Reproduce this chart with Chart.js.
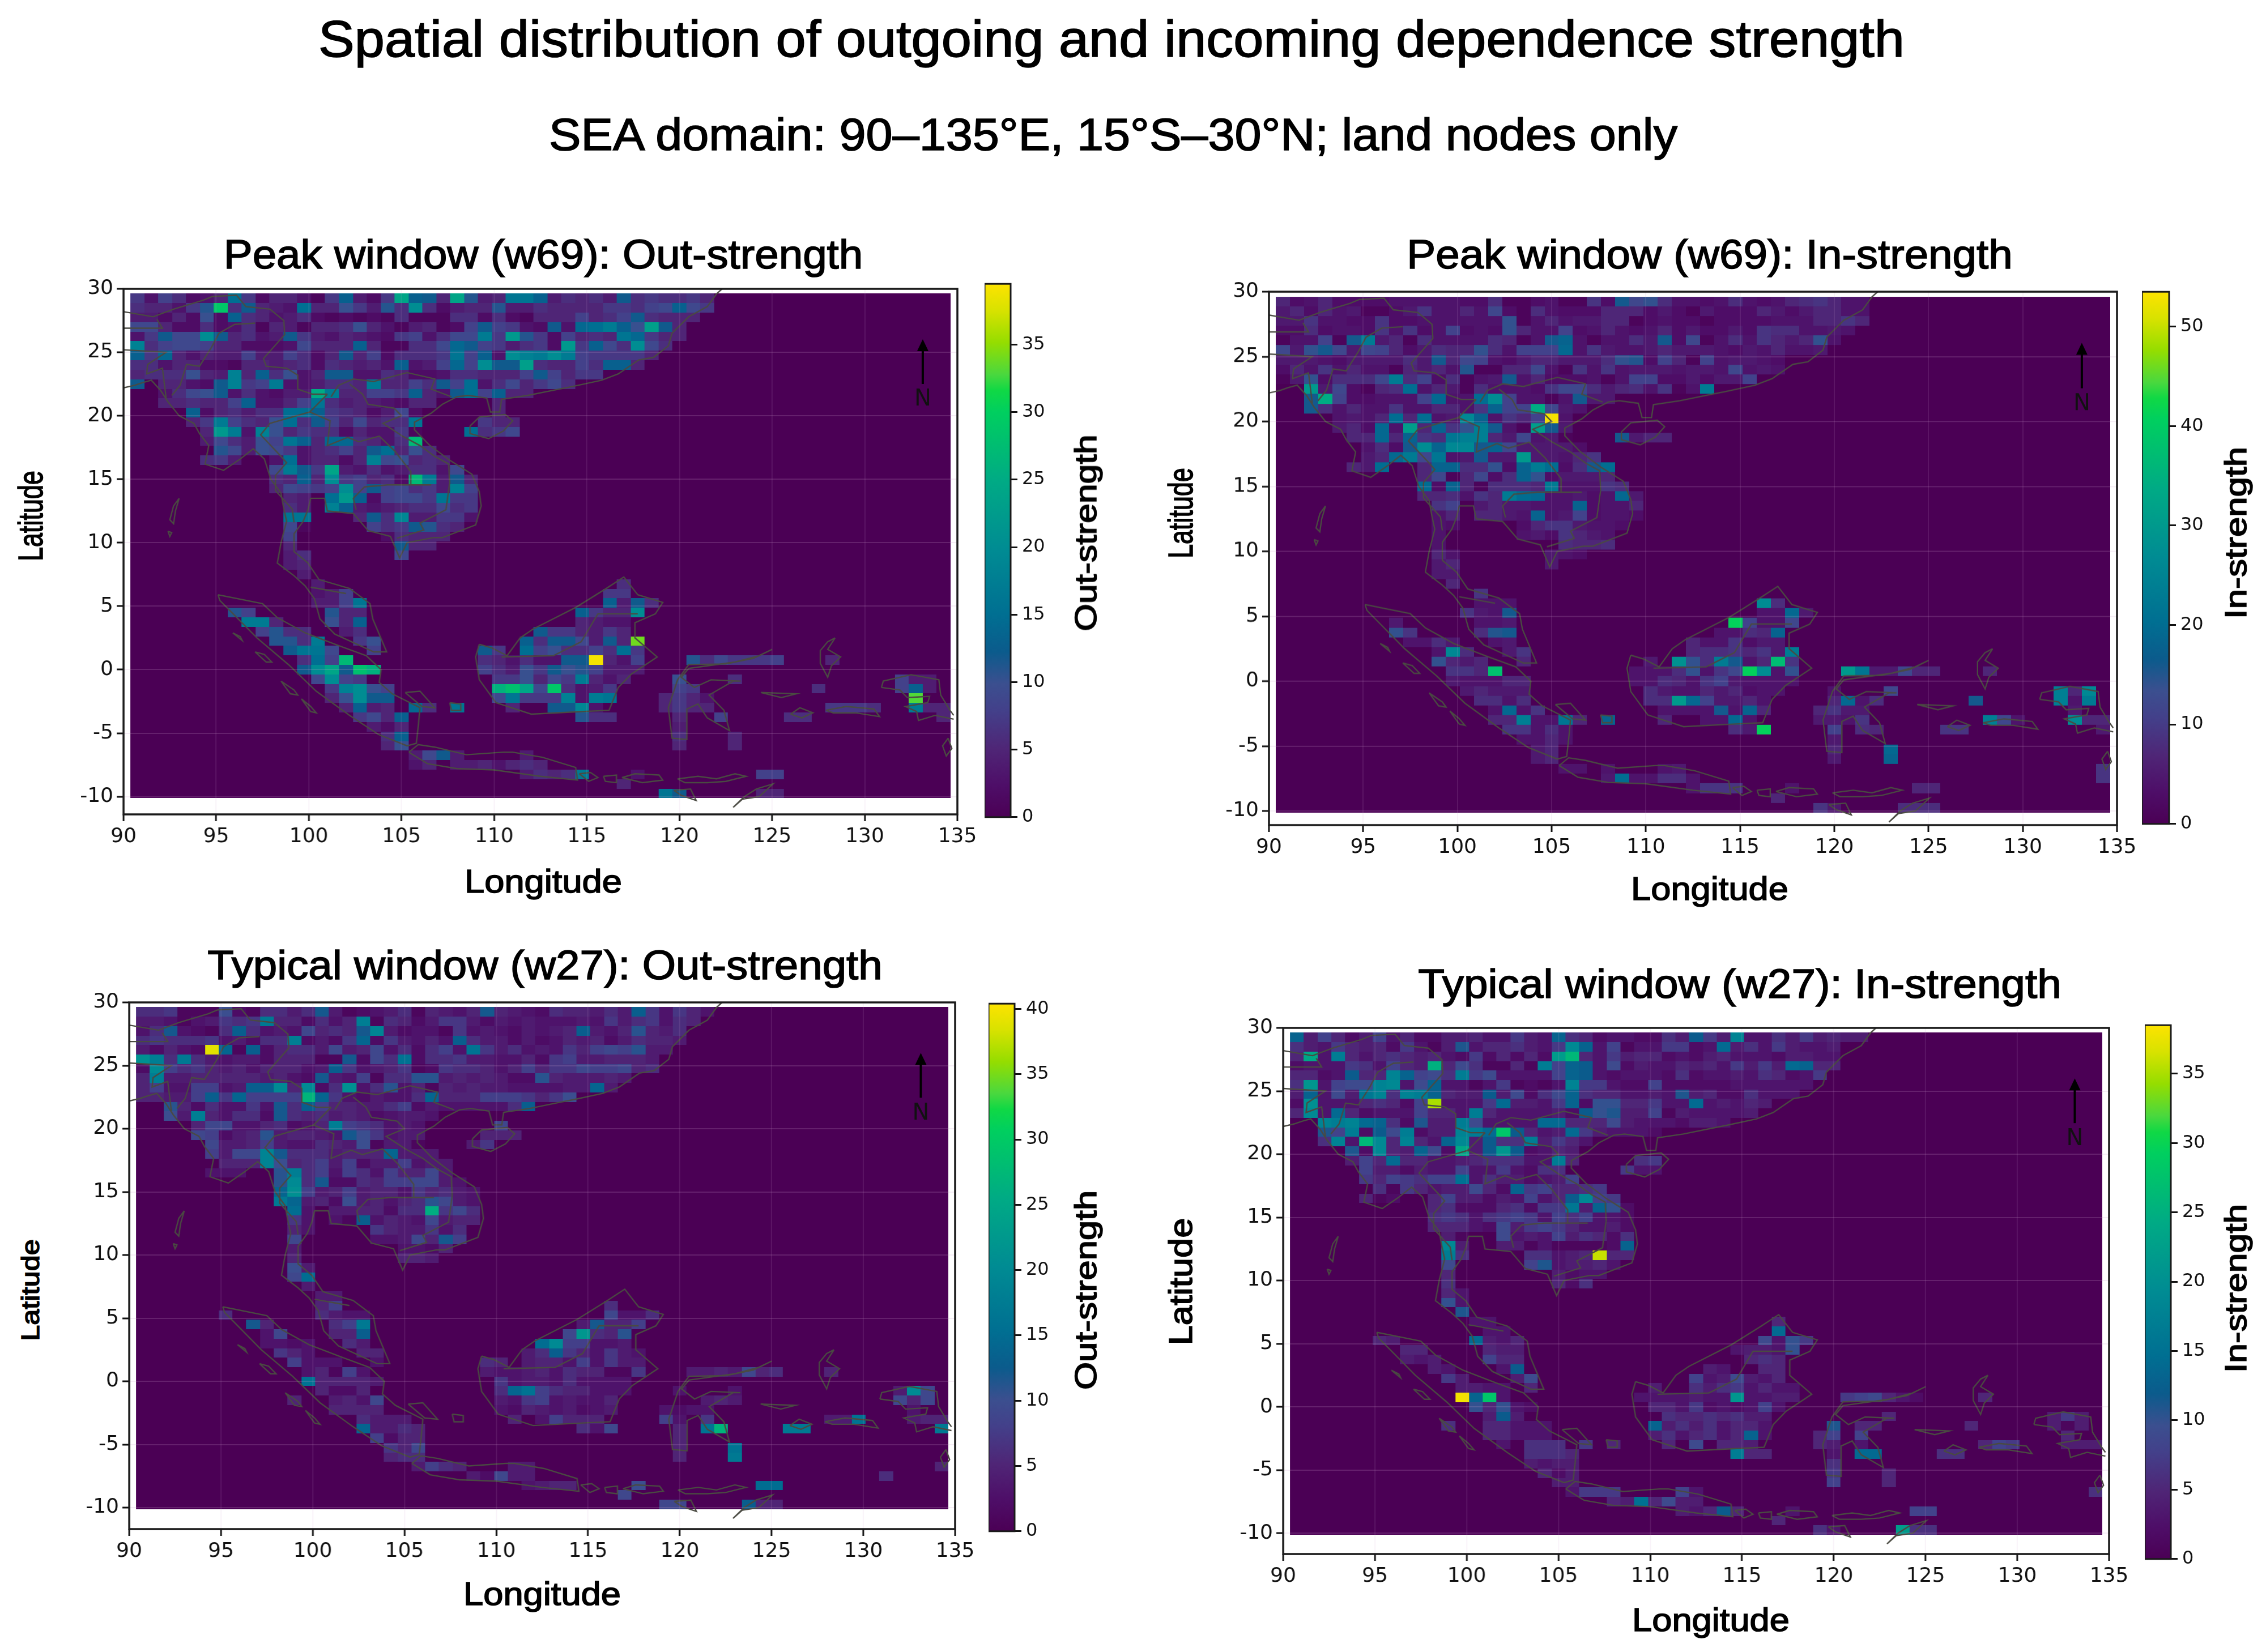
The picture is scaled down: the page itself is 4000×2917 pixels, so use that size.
<!DOCTYPE html>
<html>
<head>
<meta charset="utf-8">
<title>Outgoing and incoming dependence strength</title>
<script src="https://cdn.jsdelivr.net/npm/chart.js@4/dist/chart.umd.min.js"></script>
<style>
html,body{margin:0;padding:0;background:#fff;}
#page{position:relative;width:4000px;height:2917px;overflow:hidden;background:#fff;}
canvas{position:absolute;display:block;}
.lbl{position:absolute;white-space:nowrap;color:#000;font-family:"Liberation Sans",Arial,sans-serif;line-height:1;transform-origin:center center;-webkit-text-stroke:1.6px #000;}
</style>
</head>
<body>
<div id="page"></div>
<script>
// Grid of the strength fields: 0.75 degree cells, west edge 90.375E, north edge 29.625N.
const lonTicks = [90,95,100,105,110,115,120,125,130,135];
const latTicks = [-10,-5,0,5,10,15,20,25,30];

// Each entry is [row from the north, first column, value, value, ...]; cells not listed are 0.
const outPeak = [
[0,0,7,3,8,6,2,3,5,15,7,2,5,5,3,1,7,13,4,2,7,24,13,12,5,24,11,4,5,16,16,13,4,6,5,6,4,12,6,7,6,6,7,5],
[1,0,6,5,5,3,7,11,29,6,12,5,4,3,15,5,5,10,7,4,11,6,20,6,2,4,5,5,11,4,4,6,5,5,5,5,7,7,6,8,9,13,9,7],
[2,0,4,4,2,5,2,10,2,13,6,5,3,4,6,2,1,2,1,2,1,6,1,1,1,6,6,2,6,2,1,5,5,5,8,5,6,8,12,6,5,5,5],
[3,0,9,9,5,2,2,6,2,3,6,1,5,4,1,5,5,6,10,5,3,1,4,5,1,2,8,12,8,7,3,2,12,3,14,15,17,13,10,23,12,5],
[4,0,3,7,12,9,9,20,12,5,6,3,4,12,7,4,3,5,4,3,2,7,8,3,6,9,9,17,7,22,11,7,2,8,5,6,5,16,14,7,5,5],
[5,0,18,6,8,9,9,8,5,5,2,2,2,3,9,5,5,5,13,5,1,1,6,6,9,14,12,8,7,4,6,7,2,22,7,13,9,6,20,9,6],
[6,0,13,7,14,5,3,5,4,4,8,4,4,8,6,2,5,12,5,8,2,6,6,6,7,16,8,13,3,20,18,17,20,17,8,7,7,7,7,5],
[7,0,6,6,3,5,5,2,2,1,5,5,4,5,6,2,6,5,4,5,3,13,3,4,8,14,8,20,12,12,23,6,5,5,8,6,13,13,5],
[8,0,5,6,6,6,10,5,4,18,5,13,6,10,3,5,12,12,3,3,6,5,2,2,3,6,6,5,5,5,8,12,8,5,7,7],
[9,0,12,0,5,5,3,2,12,18,7,8,17,3,3,4,6,6,5,17,5,5,8,6,12,8,15,3,6,9,5,7,9,6],
[10,2,3,6,9,10,12,3,6,3,2,4,4,25,17,5,5,8,8,7,13,5,3,12,15,8,13,5,5],
[11,2,5,5,6,5,5,8,13,3,3,5,8,16,6,4,5,4,3,2,5,5],[11,26,5],
[12,4,13,2,5,6,4,6,6,15,15,13,7,6,5,2,4,9,2],[12,26,5],
[13,4,5,7,17,8,6,5,10,15,6,12,8,5,9,5,6,6,16],[13,25,7,5,5],
[14,5,5,22,17,3,18,10,5,7,6,6,2,5,3,3,7,1],[14,24,15,6,7,9],
[15,5,4,9,6,4,10,8,16,13,5,14,14,6,5,3,6,27],
[16,6,11,9,4,10,9,7,3,5,6,8,5,12,15,5,10,6],
[17,5,6,7,4],[17,10,3,15,3,5,5,2,5,18,9,10,5,6,5],
[18,10,9,17,12,7,24,4,3,6,3,4,6,6,3,9],
[19,10,6,5,13,5,20,7,8,5,6,2,27,17,4,12,5],
[20,10,5,9,8,7,8,20,8,12,8,9,6,7,4,18,8],
[21,11,5,4],[21,14,15,22,13,2,8,9,9,7,16,7,7],
[22,11,6,4],[22,14,18,13,4,3,4,5,6,6,9,6,7],
[23,11,16,16],[23,16,5,12,6,19,4,4,7,7,3],
[24,11,9,1],[24,17,8,6,7,12,11,6,5],
[25,11,8],[25,18,2,6,5,5,5],
[26,11,5],[26,19,12,5,5],
[27,11,4,6],[27,19,9],
[28,11,4,5],
[29,12,4],
[30,13,4],[30,35,6],
[31,13,3,4,8],[31,34,7,7],
[32,13,4,4,8,16],[32,34,13,4,12,6],
[33,7,11,8],[33,14,11,5,5],[33,32,13,7,5,5,20],
[34,8,17,17,5],[34,14,10,5,13],[34,32,5,4,3,3],
[35,9,8,11,6,6],[35,15,4,6],[35,29,12,7,7,5,4,7,5],
[36,10,11,11,6,17],[36,16,7,10],[36,28,13,6,12,12,9,4,12,5,34],
[37,11,12,16,16,9],[37,17,8],[37,25,12,7],[37,28,15,8,10,6,6,8,6,15,7],
[38,12,6,15,8,27],[38,25,6,5,3,6,3,3,12,12,39,5,3,8],[38,40,11,6,9,7,7,7,8],[38,50,5],
[39,12,12,20,24,12,28,26],[39,25,8,6,4,10,7,12,10,11,8,4,4,4],
[40,13,9,20,8,7],[40,26,7,7,10,5,9,7,17,5,3,5],[40,39,10],[40,43,6],[40,55,8,4,4],
[41,14,7,18,20,10,8],[41,26,26,28,24,9,29,6,3,4,7],[41,39,8,7],[41,49,6],[41,55,8,13,4],
[42,14,5,10,20,12,12],[42,26,9,16,7,7,7,18,3,17,16],[42,38,5,7,5,3],[42,56,33],
[43,15,5,13,4,5],[43,20,14,6],[43,23,16],[43,27,5],[43,30,12,12,19,3],[43,38,5,7,5,5],[43,50,7,7,7,6],[43,56,17,5,5],
[44,16,7,9,5,13],[44,32,11,6,6],[44,39,5],[44,42,8],[44,47,6,6],[44,58,5],
[45,17,4,2,5],[45,39,4],
[46,18,6,13],[46,39,6],[46,43,5],
[47,18,5,10],[47,39,5],[47,43,5],
[48,20,4,9,12,4],[48,28,4],
[49,20,3,5],[49,23,4,4,5,3,5,6,5],
[50,28,4,6,5,6,17],[50,36,3],[50,45,8,8],
[51,35,5],
[52,38,16,12],[52,45,5,5]
];

const inPeak = [
[0,0,7,3,4,7,3,3,3,3,4,4,4,4,4,3,3,8,1,1,3,4,1,1,9,3,16,12,14,8,4,4,3,4,8,4,3,4,7,8,9,7,4,4],
[1,0,5,7,3,7,4,5,1,1,3,5,9,4,4,7,4,12,3,1,8,4,3,3,3,7,7,7,3,5,3,1,5,3,3,3,7,5,3,5,7,7,4,4],
[2,0,5,5,9,4,4,3,3,9,3,3,4,4,4,4,4,4,14,1,4,7,4,5,5,7,7,1,3,4,3,3,1,3,3,3,3,4,4,4,7,7,9,7],
[3,0,3,3,8,3,4,4,3,9,4,9,3,4,11,3,4,3,14,7,4,4,11,3,4,7,4,3,4,7,3,5,3,3,5,3,9,8,8,4,4,5,4],
[4,0,1,4,4,11,1,16,23,5,7,1,8,4,4,4,4,8,7,1,4,16,18,4,1,4,4,8,5,16,3,12,1,4,8,4,9,7,5,7,14,4],
[5,0,12,5,14,16,12,5,12,11,7,3,5,8,7,7,14,8,4,11,11,11,19,4,9,5,4,4,5,7,5,5,5,4,3,5,4,7,4,4,5],
[6,0,5,5,5,4,3,5,5,5,5,8,5,16,7,12,11,4,3,5,7,7,5,5,5,8,14,15,3,11,7,1,11,4,5,5,4,3],
[7,0,3,7,4,9,4,7,4,4,1,7,5,7,4,15,1,1,7,7,12,4,1,9,4,9,4,5,5,5,4,5,5,4,12,4,5,4],
[8,0,1,5,14,3,8,8,8,12,23,8,11,3,8,1,4,5,16,4,7,3,3,3,4,1,4,11,11,3,3,5,3,5,5,11],
[9,2,30,5,12,3,1,7,8,20,4,7,5,1,8,4,4,4,3,9,12,12,8,5,7,8,4,9,1,4,23],
[10,2,16,34,11,3,3,4,4,4,11,19,4,4,20,27,11,4,4,1,4,16,5,5],
[11,2,16,8,4,7,4,4,9,4,4,7,7,4,9,18,11,11,34,12,5,4],
[12,4,4,5,4,7,20,7,20,4,5,26,18,4,9,7,11,53,4],
[13,4,5,7,3,19,4,31,7,18,9,14,24,16,4,1,31,16,5],
[14,5,7,7,19,7,18,9,8,22,24,24,7,5,12,4,5,1],[14,24,16,5,7,7],
[15,6,4,8,3,16,27,18,26,26,16,18,12,5,5,5,5,3],
[16,6,5,7,19,23,12,22,4,5,16,5,5,30,5,5,4,7,9],
[17,5,7,5,20],[17,10,7,18,18,8,8,14,3,18,23,20,3,8,16,20],
[18,10,7,12,1,7,12,3,8,18,14,3,5,5,5,7],
[19,10,20,3,18,7,1,8,8,8,7,23,4,4,4,9,8],
[20,10,7,7,8,4,9,7,23,20,19,4,4,5,3,4,19,5],
[21,11,9,11],[21,14,5,7,5,5,4,4,4,18,3,4,4,7],
[22,11,4,7],[22,14,7,7,5,4,18,4,5,11,3,4,4,3],
[23,11,4,3],[23,17,3,7,9,9,5,4,4,3],
[24,11,4],[24,17,4,5,3,9,7,5,4],
[25,11,4],[25,20,8,7,7,8],
[26,11,7,4],[26,19,5,4,3],
[27,11,5,7],[27,19,5],
[28,11,5,5],
[29,12,7],
[30,14,9],
[31,14,4,4,4],[31,34,27,8],
[32,13,9,5,4,16],[32,34,4,4,19,5],
[33,8,5],[33,14,4,4,5],[33,32,41,11,4,4,12],
[34,8,14,9],[34,14,8,15,16],[34,31,4,4,8,7,18],
[35,9,4,4,8,5],[35,15,4,5],[35,29,7,4,4,9,3,5,5],
[36,11,4,26,8],[36,16,5,9],[36,29,7,8,8,9,7,9,5,23],
[37,11,14,7,5,7],[37,17,7],[37,26,5],[37,28,28,14,8,23,16,4,7,37,9],
[38,12,9,9,7,38],[38,25,4,4,4,8,14,4,9,12,41,27,4,14],[38,40,30,22,5,5,12,7,7],[38,50,7],
[39,12,5,4,4,4,7,7],[39,25,4,4,8,7,4,9,11,5,4,4,4,4],
[40,13,5,7,5,5,5],[40,26,8,5,4,4,7,5,7,3,4,4],[40,39,4],[40,43,12],[40,55,24,7,26],
[41,14,8,8,4,8],[41,26,8,8,30,19,11,5,5,7,4],[41,39,7,19,4,8],[41,49,16],[41,55,24,4,23],
[42,15,4,19,4,9],[42,27,4,4,4,4,16,4,18,7],[42,38,7,9,5,5],[42,56,5],
[43,15,7,7,24,4,4,22,7],[43,23,18],[43,27,7],[43,30,4,4,19,4],[43,38,5,5,4,9],[43,50,24,12,4],[43,56,27,7,7],
[44,16,9,9,4,8,4],[44,32,8,5,41],[44,39,11],[44,41,8,7],[44,47,9,9],[44,58,5],
[45,17,4,4,7,4],[45,39,5],
[46,18,5,7],[46,39,7],[46,43,19],
[47,18,5,7],[47,39,5],[47,43,18],
[48,20,4,4],[48,23,4],[48,27,4,5],[48,58,9],
[49,23,5,20,4,4,8,8,4],[49,58,9],
[50,29,4,9,9,9],[50,36,4],[50,45,7,7],
[51,35,7],
[52,38,9,5],[52,44,8,8,8]
];

const outTypical = [
[0,0,6,6,7,1,1,1,10,2,1,6,6,4,6,12,4,1,2,3,4,6,1,5,4,3,5,12,5,4,3,2,6,5,5,4,6,4,13,7,3,7,5,3],
[1,0,4,4,3,1,3,4,7,6,7,17,5,5,2,6,3,5,18,1,6,5,2,4,7,7,4,2,4,3,4,3,3,3,4,3,7,4,6,7,3,6,5],
[2,0,3,6,12,3,2,1,6,13,6,3,4,3,9,5,6,5,12,19,4,2,3,3,1,7,3,4,3,2,4,3,4,5,13,4,3,5,11,5,4,6],
[3,0,6,7,6,6,6,7,3,4,2,6,6,18,2,4,2,7,14,2,7,4,3,5,3,13,6,4,4,2,4,2,3,5,4,5,2,4,6,5,5,4],
[4,0,4,2,5,3,2,39,14,1,13,2,5,6,6,4,9,4,5,9,3,6,2,6,8,3,16,7,4,6,3,4,3,7,5,8,9,8,11,4,4],
[5,0,21,18,6,17,6,4,3,4,4,2,5,5,5,1,1,12,2,9,6,16,2,6,6,7,4,4,3,3,5,2,7,8,4,4,5,5,5,4],
[6,0,2,20,8,6,7,5,4,5,3,5,5,5,3,4,13,7,3,4,5,7,1,2,7,6,6,5,3,5,8,5,7,7,9,8,8,9,5,6],
[7,0,5,18,4,4,5,5,5,5,5,4,5,3,2,12,4,3,8,1,6,6,11,11,4,5,4,5,4,2,2,11,5,4,4,4,5,4],
[8,0,5,8,3,3,8,8,3,4,13,13,20,5,20,2,6,21,3,6,11,3,5,1,5,4,5,4,4,3,3,3,3,4,4,14,4],
[9,0,5,5,4,4,8,13,7,14,8,8,8,8,27,14,7,3,2,4,3,3,6,14,5,5,5,8,8,8,7,5,7,10],
[10,2,11,5,2,6,3,3,7,3,12,6,13,8,5,5,4,4,6,8,2,4,3,3,3,3,3,6,13],
[11,2,10,4,18,5,3,6,6,2,12,6,5,6,4,5,4,2,3,4,4,3],
[12,4,5,9,9,3,3,5,6,2,3,5,18,8,7,6,3,4,3],[12,26,9],
[13,4,9,8,2,4,5,11,4,5,5,4,3,12,10,7,3,4,4],[13,25,5,5,5],
[14,5,9,4,4,5,8,4,3,3,6,5,4,10,1,4,4,1],[14,24,4,7],
[15,5,8,4,9,9,19,12,6,6,6,4,5,5,5,14,4,4,4],
[16,6,5,5,5,19,10,5,6,8,4,8,2,4,4,8,3,4,4],
[17,5,3,3,3],[17,10,11,18,6,8,3,8,6,3,8,5,5,9,4],
[18,10,11,20,6,12,2,2,6,5,8,8,9,9,4,3],
[19,10,14,21,8,4,5,8,4,5,5,3,7,5,6,4,3],
[20,10,17,14,4,5,2,10,4,5,3,5,6,11,9,4,3],
[21,11,15,3],[21,14,4,4,5,5,2,6,6,26,7,9,6],
[22,11,7,3],[22,14,3,1,13,3,5,4,3,9,4,5,5],
[23,11,5,3],[23,17,7,5,4,4,7,3,6],
[24,11,9],[24,17,3,3,4,9,5,12,8],
[25,11,4],[25,19,3,3,2,5],
[26,11,5],[26,19,5,5,4],
[27,11,10,4],
[28,11,9,15],
[29,12,4],
[30,13,4,4],
[31,13,5,8],[31,34,6],
[32,6,6],[32,13,6,4,3,3],[32,34,9,3,3,6],
[33,8,12,5],[33,14,6,8,17],[33,32,4,12,5,5,8],
[34,9,3,9],[34,14,5,5,13],[34,31,9,22,6,5,11],
[35,9,3,3,2,3],[35,15,6,4],[35,29,15,20,8,8,3,3,4],
[36,10,7,5,3],[36,16,5,5],[36,28,4,6,13,7,5,3,7,4,3],
[37,11,8,3,3,3],[37,17,3],[37,25,6,5],[37,28,4,5,5,3,8,3,7,4,4],
[38,12,3,5,1,8,3],[38,25,4,3,3,4,5,3,6,5,5,1,1,7],[38,40,4,4,5,4,9,5,6],[38,50,5],
[39,12,16,5,5,5,5,4],[39,26,7,3,4,4,3,6,3,3,3,3],
[40,13,5,2,2,5],[40,26,6,14,16,8,6,5,5,3,3,3],[40,39,3],[40,43,3],[40,55,4,20,9],
[41,11,5],[41,14,4,5,3,9],[41,26,4,3,7,8,3,4,3,3,5],[41,41,4,5,4],[41,55,9,5,9],
[42,14,5,5,5,5],[42,26,3,2,5,4,3,4,2,3,4],[42,38,3,2,3,3],[42,56,3],
[43,16,6,4,4,4],[43,27,5],[43,29,3,8,5,5,5],[43,38,8,3],[43,41,7],[43,50,4,4,16],[43,56,4,5,5],
[44,16,14,4,4,6,5],[44,32,6,3,9],[44,39,5],[44,41,16,27],[44,47,17,17],[44,58,17],
[45,17,8,2,5,5],[45,39,5],
[46,18,7,5,9],[46,39,5],[46,43,16],
[47,18,5,6,6],[47,39,5],[47,43,17],
[48,20,4,8,6,5],[48,27,4,4],[48,58,5],
[49,24,4,2,9,4,4],[49,54,6],
[50,28,3,4,5,5],[50,36,10],[50,45,15,15],
[51,35,9],
[52,38,9,9],[52,44,13,5,5]
];

const inTypical = [
[0,0,13,4,8,5,2,4,8,3,5,2,2,4,4,5,3,3,7,4,3,13,6,5,2,3,3,2,2,6,4,12,7,4,18,3,3,6,4,7,4,5,4,4],
[1,0,6,4,3,7,5,4,5,2,7,3,1,4,11,3,5,5,6,4,3,7,19,13,3,8,1,3,3,7,7,2,3,14,4,6,3,7,4,3,3,4],
[2,0,5,24,3,17,5,3,5,6,5,4,5,3,2,7,2,5,2,5,2,22,26,5,3,7,4,5,5,2,3,2,4,5,3,3,3,2,4,4,3,3],
[3,0,2,3,3,3,7,6,3,8,5,4,25,5,9,6,1,1,5,1,17,8,13,12,3,9,2,4,3,3,5,4,5,3,7,4,7,4,14,13,5,5],
[4,0,5,5,2,3,12,5,5,18,13,8,9,6,17,7,9,3,3,3,3,8,13,12,3,2,3,3,3,2,6,2,3,3,4,3,6,5,2,3,7],
[5,0,6,21,3,8,9,9,18,19,3,9,13,3,3,1,3,7,1,2,1,3,18,7,7,3,2,2,8,2,2,2,2,2,3,3,3,3,3,3],
[6,0,4,13,3,9,4,16,18,6,18,17,13,5,4,4,12,4,9,2,6,9,13,6,5,5,3,3,4,3,11,4,5,2,2,6,3,3,3],
[7,0,2,20,3,3,3,5,6,5,2,8,35,3,3,3,7,14,4,4,3,7,13,2,10,10,5,5,7,3,3,14,3,4,3,5,4],
[8,0,5,19,3,14,5,2,3,3,3,8,5,5,3,17,5,3,3,3,3,4,2,12,10,11,4,4,8,1,4,3,3,3,3,4],
[9,2,18,17,18,14,13,6,2,11,4,4,17,9,3,3,3,3,14,14,5,5,5,9,4,3,3,3,2,4,4,3],
[10,2,11,8,17,2,12,9,17,2,4,4,18,17,14,28,12,5,3,4,14,7,4,3,3,3,2],
[11,2,6,18,3,26,19,5,18,5,3,13,19,4,12,6,6,17,4,7,5,3],
[12,4,11,2,19,5,4,13,9,2,24,4,12,21,12,2,3,5,4],
[13,4,4,8,5,14,5,5,3,3,4,5,6,6,6,3,3,17,5],[13,25,6,7],
[14,5,8,4,4,2,4,3,3,8,3,3,7,3,2,6,6],[14,24,7,3,3],
[15,5,7,5,8,7,6,8,8,15,3,6,4,4,2,3,4,8],
[16,6,6,1,7,5,3,4,4,9,5,2,13,7,8,5,5,6,7],
[17,5,5,1,2],[17,10,5,8,4,4,2,4,3,8,3,5,12,19,8,7],
[18,10,5,6,2,2,2,5,6,2,7,7,16,4,13,10,2],
[19,10,6,7,6,3,6,7,8,7,3,8,6,8,3,3,2],
[20,10,5,5,5,3,2,9,4,7,8,7,5,3,3,4,2],
[21,11,4,1],[21,15,9,3,4,3,8,4,6,5,2,6],
[22,11,19,4],[22,15,4,4,1,3,1,1,1,1,2,13],
[23,11,17,6],[23,17,6,6,3,4,5,36,5,5],
[24,11,9],[24,17,8,11,3,4,4,5,3],
[25,11,5],[25,19,4,2,3,3],
[26,11,6],[26,19,5,2,6],
[27,11,5,3],
[28,11,10,3],
[29,12,11],
[30,13,3,3],[30,35,5],
[31,14,3,3],[31,35,14],
[32,6,5,4],[32,13,14,4,3,5],[32,34,9,3,10,7],
[33,8,5,5],[33,14,5,4,4],[33,32,3,4,4,3,10],
[34,8,4,3,4],[34,14,8,5,5],[34,33,5,6,5],
[35,10,4,3],[35,15,3,12],[35,30,4,3],[35,34,5,5],
[36,11,7,4],[36,16,4,9],[36,29,8,3,4,9,4,3,5],
[37,12,4,4,3,3],[37,17,5],[37,26,4],[37,29,6,4,6,7,3,5,3,3],
[38,12,38,13,28,3],[38,25,3,3,3,3,4,3,3,21,3,3,4,4],[38,40,7,8,9,5,3,2],[38,50,5],
[39,13,10,5,10,3,2],[39,26,5,5,3,7,2,3,2,3,8,3],
[40,14,4,12,4],[40,27,6,5,5,6,5,6,4,4],[40,43,5],[40,55,4,7,4],
[41,11,6],[41,14,5,5,3,3,3],[41,26,13,4,6,4,6,3,5,5,3],[41,39,11],[41,41,5,5],[41,49,5],[41,55,4,1,4],
[42,14,5,5,3,3,3],[42,26,4,6,3,5,6,3,5,13,3],[42,38,5,8],[42,41,8],[42,56,5],
[43,15,3],[43,17,6,6,6],[43,21,7],[43,23,5],[43,27,5],[43,29,9],[43,31,5,5,4],[43,38,5,4],[43,41,3],[43,50,5,8,7],[43,56,4,4,4],
[44,17,6,6,6,5],[44,32,17,5,5],[44,39,3],[44,41,14,14],[44,47,6,6],
[45,17,4,3,4,4],[45,39,6],
[46,18,5,2,4],[46,39,7],[46,43,5],
[47,19,4,4],[47,39,8],[47,43,5],
[48,20,3,7,7,7],[48,28,8,3],[48,58,6],
[49,23,5,4,15,5,9,4,4],
[50,28,4,3,5,12,5],[50,36,3],[50,45,8,8],
[51,35,5],
[52,38,6,3],[52,44,22,6,6]
];

// Coast and border outlines in degrees, each list [lon, lat, lon, lat, ...].
const coastMainland = [90,22.2,90.6,22.4,91,22.6,91.5,22.8,92,22,92.4,21.1,93,20,93.8,19.4,94.1,18.6,94.6,17.65,94.4,16.2,95.4,15.7,96.3,16.6,97,17.4,97.6,16.6,97.95,15,98.5,13.9,98.65,12.7,98.8,11.7,98.5,10,98.3,8.4,99.2,7.4,99.8,6.6,100.3,5.6,100.6,4,101.4,2.8,102.6,2,103.5,1.4,104.2,1.4,103.45,4,103.3,5.2,102.2,6.4,100.55,7.1,99.95,8.4,99.2,9.3,99.2,10.7,99.7,11.7,99.95,12.6,100.1,13.5,100.85,13.5,101,12.5,102.4,12.3,103.2,10.95,104.4,10.5,104.9,8.8,105.3,10,106.7,10.4,107.2,10.4,109,11.4,109.3,12.9,109.2,14,108.8,15.4,107.6,16.5,106.5,17.7,105.7,18.9,105.7,19.5,106.6,20.2,107.2,20.9,108,21.5,108.6,21.6,109.6,21.4,109.8,20.3,110.3,20.3,110.4,21.3,111.8,21.6,113.5,22.1,114.2,22.3,115.8,22.8,116.7,23.3,117.8,24.4,118.6,24.6,119.4,25.5,119.6,26.5,120.5,27.8,121.5,28.6,122,29.6,122.3,30];
const coastHainan = [108.7,19.2,109.2,19.9,110.6,20.1,111,19.6,110.5,18.8,109.7,18.2,108.7,18.6,108.7,19.2];
const coastSumatra = [95.1,5.9,97.5,5.2,98.3,4.1,99.8,2.9,101.6,1.9,103.1,1.1,103.9,0,103.8,-1,104.5,-1.9,106,-3,105.9,-4.5,105.8,-5.8,105.3,-6,103.75,-5.1,102.2,-3.6,100.4,-1.7,98.9,0.4,97.2,2.5,95.2,5.45,95.1,5.9];
const coastJava = [105.4,-6.5,105.9,-5.9,106.8,-6.1,108.5,-6.7,110.5,-6.5,111,-6.5,112.6,-6.9,114.4,-7.7,114.5,-8.7,112.5,-8.4,110,-7.9,108,-7.8,106.4,-7.4,105.4,-6.5];
const coastBorneo = [109.2,2,109,1,109.2,-0.8,110.1,-2.6,112,-3.5,114.7,-3.3,116.2,-3.2,116.7,-1.4,117.4,-0.35,118.8,1,117.6,2.5,117.6,3.7,118.7,4.4,119.1,5.3,117.75,5.9,117,7.3,116,6.35,114.4,4.9,112.1,3.2,111.4,2.5,110.7,1.1,109.9,1.7,109.2,2];
const coastSulawesi = [125,1.6,124,0.9,122.5,0.45,120.5,0.4,119.9,-0.8,119.4,-3,119.6,-5.4,120.4,-5.5,120.4,-3.1,121,-2.7,121.5,-3.8,122.7,-4.8,122.4,-3.2,121.6,-2,122.9,-0.9,123.3,-0.9,121.7,-0.8,120.8,-1.4,120.1,-0.6,120.5,0.1,123,0.6,124.3,1.1,125,1.6];
const coastHalmahera = [128.4,2.5,128,2.2,127.6,1.5,127.6,0.5,128,-0.6,128.2,0.3,128.7,1,128,1.6,128.4,2.5];
const coastSula = [124.4,-1.8,126.3,-1.9,125.5,-2.2,124.4,-1.8];
const coastBuru = [126,-3.5,126.5,-3,127.2,-3.4,126.6,-3.8,126,-3.5];
const coastSeram = [127.9,-3.2,129,-2.9,130.5,-3.1,130.8,-3.7,129.5,-3.4,128.3,-3.4,127.9,-3.2];
const coastBirdsHead = [130.9,-1.4,131,-0.9,132.5,-0.4,134,-0.8,134.1,-2,134.6,-3.2,134.8,-3.6];
const coastBirdsHeadSouth = [134.8,-3.9,133.8,-3.6,132.9,-4,132.8,-3.3,132.2,-2.9,133.4,-2.6,133.5,-2.1,132.3,-2.2,131.9,-1.6,130.9,-1.4];
const coastAru = [134.5,-5.4,134.2,-6,134.4,-6.8,134.7,-6.2,134.5,-5.4];
const coastTimor = [122.9,-10.85,123.4,-10.2,124.3,-10,125.05,-9,124.15,-9.4,123.5,-10,122.9,-10.85];
const coastSumba = [119.7,-9.5,120.6,-9.4,120.9,-10.3,120.1,-9.9,119.7,-9.5];
const coastFlores = [119.9,-8.6,121,-8.4,122,-8.6,123,-8.2,123.6,-8.4,122.5,-8.8,121.5,-8.9,120.3,-8.9,119.9,-8.6];
const coastSumbawa = [116.9,-8.5,117.6,-8.2,118.9,-8.3,119.1,-8.7,118,-8.9,116.9,-8.5];
const coastLombok = [115.9,-8.4,116.6,-8.3,116.6,-8.9,116,-8.8,115.9,-8.4];
const coastBali = [114.6,-8.2,115.2,-8.1,115.6,-8.5,115.1,-8.8,114.6,-8.2];
const coastBangka = [105.2,-1.8,106,-1.7,106.8,-3,106.1,-2.9,105.2,-1.8];
const coastBelitung = [107.6,-2.6,108.2,-2.7,108.2,-3.2,107.7,-3.2,107.6,-2.6];
const coastAndaman = [93,13.5,92.8,12.5,92.7,11.5,92.5,11.8,92.7,12.9,93,13.5];
const coastLittleAndaman = [92.4,10.9,92.6,10.8,92.5,10.5,92.4,10.9];
const coastSimeulue = [95.9,2.9,96.3,2.6,96.4,2.3,95.9,2.9];
const coastNias = [97.1,1.4,97.6,1.2,98,0.6,97.7,0.6,97.1,1.4];
const coastSiberut = [98.5,-0.9,99.2,-1.6,99.4,-2,99,-1.9,98.5,-0.9];
const coastPagai = [99.6,-2.3,100.1,-2.9,100.4,-3.4,100.1,-3.3,99.6,-2.3];
const borderNorth = [90,28.2,91.6,27.8,92.7,28.4,94.3,29.1,94.8,29.4,96.1,29.5,96.6,28.6,97.9,28.4,98.65,27.5,98.7,26.4,97.55,24.5,97.7,23.9,98.8,23.75,99.4,23.2,99.4,22.1,100.2,21.7,101,21.7];
const borderBhutan = [90,26.9,92.1,26.9,91.8,27.6];
const borderAssam = [97.1,27.3,96,27.2,95.15,26.5,94.75,25.4,94.1,23.9,93.4,24.05,93.05,22.4,92.6,21.6];
const borderBengal = [90,25.2,92.3,25,91.3,24.05,91.25,23.3,92.1,23.75,92.3,21.4];
const borderThaiWest = [101,21.7,100.05,20.3,97.9,19.4,97.4,18.5,98.5,16.8,98.8,16.3,98.2,15.3,98.2,14.1,99.1,12.65,99.2,11.6];
const borderVietChina = [101.2,21.5,101.6,22.4,102.4,22.9,103.5,22.7,105.3,23.4,106.8,22.9,106.6,22.1,107.7,21.5];
const borderLaosViet = [102.2,22.5,102.9,21.7,103.2,20.9,104.6,20.6,105,20,104,19.4,105.05,18.4,106,17.65,106.8,16.8,107.55,16.2,107.6,14.7];
const borderMekong = [100.05,20.3,101.15,19.6,101,17.65,102.1,18.3,102.7,17.95,103.8,18.4,104.65,17.2,105.5,15.6,105.5,14.55];
const borderThaiCambodia = [106.6,14.55,105.5,14.55,104.25,14.55,103,14.4,102.4,13.5,102.55,12.6];
const borderCambodiaViet = [107.6,14.7,107.4,12.6,106,11.55,106.2,11,104.75,10.35];
const borderSarawak = [110.4,1,113.2,1.1,114.7,2.2,115.6,4.4,117.75,4.4];
const borderMalayThai = [100.1,6.5,102,6];

const coastLists = [coastMainland,coastHainan,coastSumatra,coastJava,coastBorneo,coastSulawesi,coastHalmahera,coastSula,coastBuru,coastSeram,coastBirdsHead,coastBirdsHeadSouth,coastAru,coastTimor,coastSumba,coastFlores,coastSumbawa,coastLombok,coastBali,coastBangka,coastBelitung,coastAndaman,coastLittleAndaman,coastSimeulue,coastNias,coastSiberut,coastPagai,borderNorth,borderBhutan,borderAssam,borderBengal,borderThaiWest,borderVietChina,borderLaosViet,borderMekong,borderThaiCambodia,borderCambodiaViet,borderSarawak,borderMalayThai];

const colorStops = [
  [0,[75,0,85]],[0.06,[78,14,104]],[0.127,[79,37,118]],[0.2,[67,64,138]],[0.25,[59,79,143]],
  [0.31,[11,91,140]],[0.38,[0,111,146]],[0.5,[0,139,147]],[0.63,[0,170,133]],[0.76,[0,207,95]],
  [0.8,[16,216,69]],[0.83,[74,216,62]],[0.89,[149,221,0]],[0.95,[216,226,0]],[1,[253,227,0]]
];
function colorAt(t){
  t = Math.max(0,Math.min(1,t));
  for(let i=1;i<colorStops.length;i++){
    if(t<=colorStops[i][0]){
      const [a,ca]=colorStops[i-1],[b,cb]=colorStops[i],f=(t-a)/(b-a);
      return 'rgb('+ca.map((c,k)=>Math.round(c+(cb[k]-c)*f)).join(',')+')';
    }
  }
  return 'rgb(253,227,0)';
}

const COLS=59, ROWS=53, CELL=0.75, WEST=90.375, NORTH=29.625;
function cellsFrom(runs){
  const grid=Array.from({length:ROWS},()=>new Array(COLS).fill(0));
  runs.forEach(run=>{
    const [r,c,...vals]=run;
    vals.forEach((v,i)=>{ if(c+i<COLS) grid[r][c+i]=v; });
  });
  const cells=[];
  grid.forEach((row,r)=>row.forEach((v,c)=>cells.push({x:WEST+CELL*(c+0.5),y:NORTH-CELL*(r+0.5),v})));
  return cells;
}

// Fills the strength cells below the outlines, using the chart's own scales for placement.
const heatCells={
  id:'heatCells',
  beforeDatasetsDraw(chart,args,opts){
    const {ctx,scales:{x,y}}=chart;
    const cells=chart.data.datasets[0].data;
    ctx.save();
    cells.forEach(d=>{
      const x0=Math.round(x.getPixelForValue(d.x-CELL/2)),x1=Math.round(x.getPixelForValue(d.x+CELL/2));
      const y0=Math.round(y.getPixelForValue(d.y+CELL/2)),y1=Math.round(y.getPixelForValue(d.y-CELL/2));
      ctx.fillStyle=colorAt(d.v/opts.max);
      ctx.fillRect(x0,y0,x1-x0,y1-y0);
    });
    ctx.restore();
  }
};
// Closes the plot frame and adds the north arrow in the upper right of the map.
const frameAndArrow={
  id:'frameAndArrow',
  afterDraw(chart,args,opts){
    const {ctx,chartArea:a}=chart;
    ctx.save();
    if(opts.arrow){
      const px=a.left+(a.right-a.left)*0.9585, h=a.bottom-a.top;
      const tip=a.top+h*0.096, tail=a.top+h*0.181;
      ctx.strokeStyle='#000';ctx.fillStyle='#000';ctx.lineWidth=4;
      ctx.beginPath();ctx.moveTo(px,tail);ctx.lineTo(px,tip+12);ctx.stroke();
      ctx.beginPath();ctx.moveTo(px,tip);ctx.lineTo(px-10,tip+21);ctx.lineTo(px+10,tip+21);ctx.closePath();ctx.fill();
      ctx.font='40px "DejaVu Sans"';ctx.textAlign='center';ctx.textBaseline='top';
      ctx.fillStyle='#111';
      ctx.fillText('N',px,tail+8);
    }
    ctx.strokeStyle='#1a1a1a';ctx.lineWidth=opts.frameWidth||3;
    ctx.strokeRect(a.left,a.top,a.right-a.left,a.bottom-a.top);
    ctx.restore();
  }
};

const mapTickFont={family:'"DejaVu Sans"',size:36};
const barTickFont={family:'"DejaVu Sans"',size:32};
const page=document.getElementById('page');
const PAD={l:120,r:45,t:30,b:70};

function addMap(data,box,yMin,max){
  const c=document.createElement('canvas');
  const w=box.r-box.l+PAD.l+PAD.r,h=box.b-box.t+PAD.t+PAD.b;
  c.width=w;c.height=h;
  c.style.left=(box.l-PAD.l)+'px';c.style.top=(box.t-PAD.t)+'px';
  c.style.width=w+'px';c.style.height=h+'px';
  page.appendChild(c);
  const outlineSets=coastLists.map(list=>{
    const pts=[];
    for(let i=0;i<list.length;i+=2) pts.push({x:list[i],y:list[i+1]});
    return {type:'scatter',showLine:true,data:pts,borderColor:'#4a4a42',borderWidth:2.4,pointRadius:0,tension:0};
  });
  new Chart(c,{
    type:'scatter',
    data:{datasets:[{data:cellsFrom(data),pointRadius:0,showLine:false},...outlineSets]},
    options:{
      responsive:false,animation:false,devicePixelRatio:1,events:[],
      layout:{padding:{left:0,right:PAD.r,top:PAD.t,bottom:0}},
      plugins:{legend:{display:false},tooltip:{enabled:false},
        heatCells:{max},frameAndArrow:{arrow:true,frameWidth:3.5}},
      scales:{
        x:{type:'linear',min:90,max:135,
          afterBuildTicks:s=>{s.ticks=lonTicks.map(value=>({value}));},
          afterFit:s=>{s.height=PAD.b;},
          border:{display:false},
          grid:{z:1,color:'rgba(205,160,205,0.13)',lineWidth:2,tickColor:'#111',tickWidth:3,tickLength:12,drawTicks:true},
          ticks:{font:mapTickFont,color:'#111',maxRotation:0,autoSkip:false,padding:6}},
        y:{type:'linear',min:yMin,max:30,
          afterBuildTicks:s=>{s.ticks=latTicks.map(value=>({value}));},
          afterFit:s=>{s.width=PAD.l;},
          border:{display:false},
          grid:{z:1,color:'rgba(205,160,205,0.2)',lineWidth:2,tickColor:'#111',tickWidth:3,tickLength:12,drawTicks:true},
          ticks:{font:mapTickFont,color:'#111',autoSkip:false,padding:6}}
      }
    },
    plugins:[heatCells,frameAndArrow]
  });
}

// The colour bar is a single floating bar from 0 to the field maximum on a right-hand value axis.
function addColorBar(box,max,values){
  const barPad={r:110,t:25,b:25};
  const c=document.createElement('canvas');
  const w=box.r-box.l+barPad.r,h=box.b-box.t+barPad.t+barPad.b;
  c.width=w;c.height=h;
  c.style.left=box.l+'px';c.style.top=(box.t-barPad.t)+'px';
  c.style.width=w+'px';c.style.height=h+'px';
  page.appendChild(c);
  new Chart(c,{
    type:'bar',
    data:{labels:['scale'],datasets:[{
      data:[[0,max]],barPercentage:1,categoryPercentage:1,borderWidth:0,
      backgroundColor(ctx){
        const a=ctx.chart.chartArea;
        if(!a) return '#000';
        const g=ctx.chart.ctx.createLinearGradient(0,a.bottom,0,a.top);
        colorStops.forEach(([t])=>g.addColorStop(t,colorAt(t)));
        return g;
      }
    }]},
    options:{
      responsive:false,animation:false,devicePixelRatio:1,events:[],
      layout:{padding:{left:0,right:0,top:barPad.t,bottom:barPad.b}},
      plugins:{legend:{display:false},tooltip:{enabled:false},frameAndArrow:{arrow:false,frameWidth:3}},
      scales:{
        x:{display:false},
        y:{type:'linear',position:'right',min:0,max,
          afterBuildTicks:s=>{s.ticks=values.map(value=>({value}));},
          afterFit:s=>{s.width=barPad.r;},
          border:{display:false},
          grid:{drawOnChartArea:false,tickColor:'#111',tickWidth:3,tickLength:12},
          ticks:{font:barTickFont,color:'#111',autoSkip:false,padding:8}}
      }
    },
    plugins:[frameAndArrow]
  });
}

function addText(text,cx,cy,width,size,rotate){
  const d=document.createElement('div');
  d.className='lbl';d.textContent=text;d.style.fontSize=size+'px';
  d.style.left=cx+'px';d.style.top=cy+'px';
  page.appendChild(d);
  const sx=width/d.offsetWidth;
  d.style.transform='translate(-50%,-50%)'+(rotate?' rotate(-90deg)':'')+' scaleX('+sx.toFixed(4)+')';
}

const outTicksPeak=[0,5,10,15,20,25,30,35];
const inTicksPeak=[0,10,20,30,40,50];
const outTicksTypical=[0,5,10,15,20,25,30,35,40];
const inTicksTypical=[0,5,10,15,20,25,30,35];

function build(){
  addMap(outPeak,{l:218,r:1689.5,t:509.5,b:1437.5},-11.4,39.5);
  addMap(inPeak,{l:2240,r:3737,t:515,b:1456.5},-11.09,53.5);
  addMap(outTypical,{l:228,r:1685.5,t:1770,b:2700},-11.7,40.4);
  addMap(inTypical,{l:2265,r:3722.5,t:1815,b:2744},-11.65,38.5);
  addColorBar({l:1738,r:1784,t:499,b:1445},39.5,outTicksPeak);
  addColorBar({l:3781,r:3829,t:513,b:1457},53.5,inTicksPeak);
  addColorBar({l:1745,r:1791,t:1770,b:2706},40.4,outTicksTypical);
  addColorBar({l:3786,r:3832,t:1808,b:2755},38.5,inTicksTypical);

  addText('Spatial distribution of outgoing and incoming dependence strength',1962,69,2800,90);
  addText('SEA domain: 90–135°E, 15°S–30°N; land nodes only',1965,238,1992,80);
  addText('Peak window (w69): Out-strength',959,449,1128,72);
  addText('Peak window (w69): In-strength',3018,449,1069,72);
  addText('Typical window (w27): Out-strength',962,1704,1191,72);
  addText('Typical window (w27): In-strength',3071,1737,1135,72);
  addText('Longitude',959,1556,278,58);
  addText('Longitude',3018,1569,278,58);
  addText('Longitude',957,2814,278,58);
  addText('Longitude',3020,2860,278,58);
  addText('Latitude',54,911,160,62,true);
  addText('Latitude',2084,906,160,62,true);
  addText('Latitude',54,2278,180,44,true);
  addText('Latitude',2084,2263,224,58,true);
  addText('Out-strength',1916,941,347,54,true);
  addText('In-strength',3946,941,304,54,true);
  addText('Out-strength',1916,2278,352,54,true);
  addText('In-strength',3946,2275,298,54,true);
}
build();
</script>
</body>
</html>
